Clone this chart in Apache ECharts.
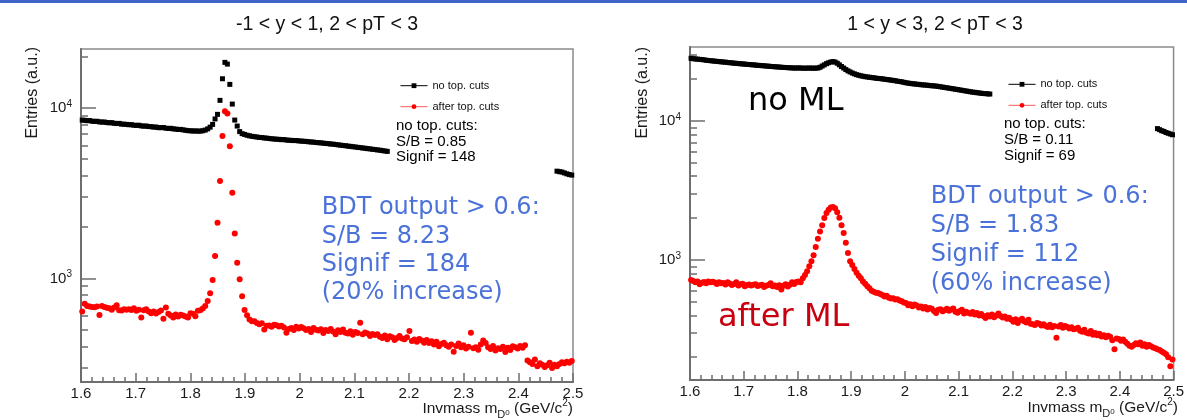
<!DOCTYPE html>
<html>
<head>
<meta charset="utf-8">
<script src="https://cdn.jsdelivr.net/npm/echarts@6/dist/echarts.min.js"></script>
<style>
  html, body { margin: 0; padding: 0; background: #ffffff; }
  #chart { width: 1187px; height: 420px; }
</style>
</head>
<body>
<div id="chart"></div>
<script>
// D0 invariant-mass spectra in two rapidity windows (2 < pT < 3), before and after topological cuts.

const massRange = [1.6, 2.5];
const massTickStep = 0.1;
const leftBinWidth = 0.0045;   // 200 bins
const rightBinWidth = 0.004;   // 225 bins

const panelTitles = ['-1 < y < 1, 2 < pT < 3', '1 < y < 3, 2 < pT < 3'];
const seriesNames = ['no top. cuts', 'after top. cuts'];
const decadeTicks = [1000, 10000];
const minorLogTicks = [200, 300, 400, 500, 600, 700, 800, 900,
                       2000, 3000, 4000, 5000, 6000, 7000, 8000, 9000, 20000, 30000];
const leftYRange = [247, 22100];
const rightYRange = [137, 34000];

// ---- left panel, -1 < y < 1 ----
// no top. cuts: bins 0..124 and 193..199 (the rest sits behind the legend box)
const leftNoCutLowStart = 0;
const leftNoCutLow = [
  8470, 8440, 8400, 8410, 8340, 8320, 8330, 8260, 8240, 8250,
  8190, 8160, 8180, 8110, 8080, 8100, 8020, 8010, 7990, 7950,
  7960, 7900, 7880, 7900, 7830, 7800, 7820, 7760, 7750, 7700,
  7710, 7650, 7640, 7660, 7590, 7560, 7580, 7520, 7500, 7460,
  7470, 7420, 7380, 7340, 7330, 7300, 7320, 7290, 7300, 7330,
  7400, 7520, 7700, 7990, 8600, 9150, 11050, 14790, 18450, 18030,
  13710, 10510, 8470, 7813, 7250, 7050, 6980, 6900, 6850, 6800,
  6770, 6740, 6700, 6690, 6650, 6640, 6600, 6580, 6560, 6540,
  6530, 6500, 6510, 6470, 6450, 6440, 6420, 6430, 6390, 6380,
  6360, 6350, 6320, 6300, 6290, 6260, 6240, 6230, 6200, 6180,
  6160, 6130, 6120, 6090, 6060, 6040, 6010, 5990, 5960, 5940,
  5910, 5890, 5860, 5840, 5810, 5790, 5760, 5740, 5710, 5690,
  5660, 5640, 5610, 5580, 5550
];
const leftNoCutHighStart = 193;
const leftNoCutHigh = [4250, 4220, 4200, 4150, 4100, 4060, 4030];

const leftAfterCut = [
  640, 710, 690, 685, 680, 678, 685, 610, 688, 680,
  672, 668, 655, 675, 695, 650, 648, 660, 655, 660,
  652, 668, 645, 655, 590, 650, 660, 640, 625, 640,
  622, 635, 648, 580, 675, 620, 605, 590, 615, 598,
  612, 605, 598, 590, 625, 620, 600, 645, 650, 665,
  690, 736, 817, 977, 1351, 2118, 3716, 6820, 9550, 9250,
  5950, 3175, 1835, 1234, 987, 787, 652, 609, 575, 560,
  560, 548, 538, 545, 502, 528, 530, 520, 535, 532,
  522, 528, 515, 480, 505, 512, 498, 520, 508, 518,
  510, 498, 505, 485, 512, 500, 495, 503, 478, 498,
  492, 505, 488, 470, 496, 485, 502, 480, 475, 490,
  468, 485, 478, 550, 470, 482, 476, 460, 472, 465,
  470, 455, 448, 462, 440, 458, 452, 436, 448, 460,
  445, 440, 452, 492, 430, 438, 425, 442, 432, 420,
  435, 418, 428, 410, 425, 400, 412, 420, 405, 398,
  410, 372, 402, 415, 395, 405, 388, 398, 480, 390,
  395, 382, 410, 432, 418, 395, 385, 402, 378, 390,
  385, 398, 370, 392, 380, 400, 395, 388, 402, 392,
  405, 330, 322, 315, 335, 305, 318, 312, 302, 310,
  320, 298, 312, 305, 315, 322, 318, 325, 320, 328
];

// ---- right panel, 1 < y < 3 ----
const rightNoCutLowStart = 0;
const rightNoCutLow = [
  28200, 28000, 27900, 27800, 27700, 27600, 27500, 27300, 27200, 27100,
  27000, 26900, 26800, 26700, 26600, 26500, 26450, 26300, 26200, 26150,
  26000, 25950, 25850, 25750, 25700, 25600, 25500, 25450, 25350, 25300,
  25200, 25100, 25050, 24950, 24900, 24800, 24750, 24650, 24600, 24500,
  24450, 24400, 24300, 24250, 24200, 24150, 24100, 24050, 24000, 24000,
  24050, 24000, 23950, 23950, 23950, 24000, 23950, 23950, 23950, 24000,
  24300, 24800, 25300, 25800, 26200, 26500, 26700, 26500, 26000, 25300,
  24600, 24000, 23400, 22900, 22500, 22100, 21800, 21500, 21300, 21100,
  20950, 20800, 20700, 20600, 20500, 20400, 20300, 20200, 20150, 20050,
  19950, 19850, 19750, 19650, 19550, 19450, 19300, 19200, 19100, 18950,
  18800, 18700, 18600, 18500, 18450, 18350, 18300, 18200, 18150, 18100,
  18050, 17950, 17900, 17850, 17800, 17700, 17600, 17500, 17400, 17300,
  17200, 17100, 17000, 16900, 16800, 16700, 16600, 16500, 16400, 16300,
  16200, 16100, 16050, 15950, 15900, 15800, 15750, 15700, 15650, 15600
];
const rightNoCutHighStart = 217;
const rightNoCutHigh = [8800, 8650, 8500, 8400, 8250, 8150, 8050, 7950];

const rightAfterCut = [
  718, 705, 690, 700, 668, 685, 695, 680, 700, 690,
  698, 688, 672, 690, 680, 684, 665, 690, 678, 660,
  672, 690, 655, 668, 675, 648, 660, 665, 655, 662,
  670, 650, 658, 664, 640, 652, 660, 680, 648, 655,
  640, 658, 612, 652, 670, 645, 662, 690, 672, 695,
  700, 690, 740, 780, 830, 900, 980, 1080, 1240, 1420,
  1600, 1780, 2000, 2180, 2300, 2380, 2400, 2350, 2200, 2010,
  1780, 1560, 1330, 1120, 980, 920, 860, 810, 770, 740,
  700, 675, 648, 625, 600, 590, 582, 578, 570, 560,
  545, 552, 535, 528, 530, 520, 522, 510, 505, 495,
  490, 472, 480, 465, 478, 470, 455, 462, 448, 458,
  440, 452, 445, 430, 415, 438, 442, 428, 435, 445,
  432, 440, 448, 425, 418, 430, 438, 412, 425, 416,
  410, 422, 405, 415, 398, 408, 395, 382, 400, 392,
  405, 388, 398, 412, 396, 385, 392, 378, 384, 372,
  360, 375, 352, 368, 378, 362, 355, 372, 348, 345,
  340, 352, 348, 338, 345, 335, 330, 342, 328, 335,
  276, 332, 340, 325, 335, 330, 322, 328, 318, 320,
  325, 310, 305, 315, 300, 296, 308, 290, 298, 288,
  295, 282, 288, 278, 285, 280, 265, 228, 272, 270,
  262, 268, 258, 250, 242, 238, 245, 252, 248, 255,
  242, 248, 238, 245, 240, 235, 232, 228, 225, 220,
  215, 210, 200, 172, 192
];

// ---- helpers ----
const FONT = '"Liberation Sans", Arial, sans-serif';
const AXIS_GREY = '#6e6e6e';

function binPoints(values, firstBin, width) {
  return values.map((v, k) => [+(massRange[0] + (firstBin + k + 0.5) * width).toFixed(5), v]);
}

const chart = echarts.init(document.getElementById('chart'), null, { renderer: 'canvas' });

const grids = [
  { left: 81, top: 49, width: 492, height: 333 },
  { left: 690, top: 47, width: 490, height: 333 }
];
const yRanges = [leftYRange, rightYRange];

const xAxes = grids.map((g, p) => ({
  type: 'value', gridIndex: p, position: 'bottom',
  min: massRange[0], max: massRange[1], interval: massTickStep,
  axisLine: { lineStyle: { color: AXIS_GREY, width: 2 } },
  axisTick: { inside: true, length: 9, lineStyle: { color: AXIS_GREY, width: 1.5 } },
  minorTick: { show: true, splitNumber: 5, length: 5, lineStyle: { color: AXIS_GREY, width: 1.5 } },
  splitLine: { show: false },
  axisLabel: { margin: 4, fontSize: 15, fontFamily: FONT, color: '#1a1a1a' }
}));

const yAxes = [];
yRanges.forEach((r, p) => {
  const lo = Math.log10(r[0]), hi = Math.log10(r[1]);
  // data scale
  yAxes.push({
    type: 'log', logBase: 10, gridIndex: p, position: 'left', min: r[0], max: r[1],
    show: false, splitLine: { show: false }
  });
  // decade ticks and labels
  yAxes.push({
    type: 'value', gridIndex: p, position: 'left', min: lo, max: hi,
    axisLine: { show: true, lineStyle: { color: AXIS_GREY, width: 2 } },
    axisTick: { inside: true, length: 15, customValues: decadeTicks.map(Math.log10),
                lineStyle: { color: AXIS_GREY, width: 1.5 } },
    axisLabel: {
      customValues: decadeTicks.map(Math.log10), margin: 9,
      formatter: v => '{b|10}{s|' + Math.round(v) + '}',
      rich: {
        b: { fontSize: 15, fontFamily: FONT, color: '#1a1a1a', lineHeight: 18 },
        s: { fontSize: 10, fontFamily: FONT, color: '#1a1a1a', lineHeight: 10, verticalAlign: 'top' }
      }
    },
    splitLine: { show: false }
  });
  // 2..9 ticks inside each decade
  yAxes.push({
    type: 'value', gridIndex: p, position: 'left', min: lo, max: hi,
    axisLine: { show: false },
    axisTick: { inside: true, length: 7, customValues: minorLogTicks.map(Math.log10),
                lineStyle: { color: AXIS_GREY, width: 1.5 } },
    axisLabel: { show: false },
    splitLine: { show: false }
  });
});

function noCutSeries(p, data) {
  return {
    type: 'line', name: seriesNames[0], xAxisIndex: p, yAxisIndex: p * 3, data,
    symbol: 'rect', symbolSize: 5, showSymbol: true, silent: true, z: 2,
    itemStyle: { color: '#000000' },
    lineStyle: { color: '#000000', width: 1, opacity: 0 }
  };
}
function afterCutSeries(p, data) {
  return {
    type: 'line', name: seriesNames[1], xAxisIndex: p, yAxisIndex: p * 3, data,
    symbol: 'circle', symbolSize: 6, showSymbol: true, silent: true, z: 3,
    itemStyle: { color: '#ff0000' },
    lineStyle: { color: '#ff5a5a', width: 1, opacity: 0 }
  };
}

const series = [
  noCutSeries(0, binPoints(leftNoCutLow, leftNoCutLowStart, leftBinWidth)),
  noCutSeries(0, binPoints(leftNoCutHigh, leftNoCutHighStart, leftBinWidth)),
  afterCutSeries(0, binPoints(leftAfterCut, 0, leftBinWidth)),
  noCutSeries(1, binPoints(rightNoCutLow, rightNoCutLowStart, rightBinWidth)),
  noCutSeries(1, binPoints(rightNoCutHigh, rightNoCutHighStart, rightBinWidth)),
  afterCutSeries(1, binPoints(rightAfterCut, 0, rightBinWidth))
];

const legends = [[395, 74.2], [1003, 72.8]].map(pos => ({
  left: pos[0], top: pos[1], orient: 'vertical',
  itemWidth: 27, itemHeight: 6, itemGap: 8,
  selectedMode: false,
  lineStyle: { opacity: 1, width: 1 },
  textStyle: { fontSize: 11, lineHeight: 13, fontFamily: FONT, color: '#111111' },
  data: seriesNames
}));

const axisTitleRich = {
  sub: { fontSize: 11, fontFamily: FONT, fill: '#1a1a1a', verticalAlign: 'bottom', lineHeight: 11 },
  sub0: { fontSize: 8, fontFamily: FONT, fill: '#1a1a1a', verticalAlign: 'bottom', lineHeight: 8, padding: [0, 0, 3, 0] },
  sup: { fontSize: 10, fontFamily: FONT, fill: '#1a1a1a', verticalAlign: 'top', lineHeight: 10 }
};

function text(x, y, str, font, fill, extra) {
  return Object.assign({ type: 'text', x, y, silent: true,
    style: Object.assign({ text: str, font, fill, align: 'left', verticalAlign: 'middle' }, extra && extra.style) },
    extra && extra.el);
}

const graphic = [
  { type: 'rect', shape: { x: 0, y: 0, width: 1187, height: 3 }, style: { fill: '#4064c8' }, silent: true },
  text(327, 25, panelTitles[0], '19.5px ' + FONT, '#111111', { style: { align: 'center' } }),
  text(935, 25, panelTitles[1], '19.5px ' + FONT, '#111111', { style: { align: 'center' } }),
  text(33, 47, 'Entries (a.u.)', '16px ' + FONT, '#1a1a1a', { style: { align: 'right' }, el: { rotation: Math.PI / 2 } }),
  text(643, 47, 'Entries (a.u.)', '16px ' + FONT, '#1a1a1a', { style: { align: 'right' }, el: { rotation: Math.PI / 2 } }),
  text(573, 409, 'Invmass m{sub|D}{sub0|0} (GeV/c{sup|2})', '15.5px ' + FONT, '#1a1a1a',
       { style: { align: 'right', lineHeight: 22, rich: axisTitleRich } }),
  text(1178, 408, 'Invmass m{sub|D}{sub0|0} (GeV/c{sup|2})', '15.5px ' + FONT, '#1a1a1a',
       { style: { align: 'right', lineHeight: 22, rich: axisTitleRich } }),
  text(396, 118, 'no top. cuts:\nS/B = 0.85\nSignif = 148', '15px ' + FONT, '#000000',
       { style: { verticalAlign: 'top', lineHeight: 15.7 } }),
  text(1004, 116, 'no top. cuts:\nS/B = 0.11\nSignif = 69', '15px ' + FONT, '#000000',
       { style: { verticalAlign: 'top', lineHeight: 16 } }),
  text(321.7, 193.8, 'BDT output > 0.6:\nS/B = 8.23\nSignif = 184\n(20% increase)', '24px "DejaVu Sans", sans-serif', '#4a72d8',
       { style: { verticalAlign: 'top', lineHeight: 28.4 } }),
  text(930.7, 182.3, 'BDT output > 0.6:\nS/B = 1.83\nSignif = 112\n(60% increase)', '24px "DejaVu Sans", sans-serif', '#4a72d8',
       { style: { verticalAlign: 'top', lineHeight: 28.9 } }),
  text(748, 101.7, 'no ML', '32px "DejaVu Sans", sans-serif', '#000000'),
  text(718, 318, 'after ML', '32px "DejaVu Sans", sans-serif', '#c8000f')
];

chart.setOption({
  animation: false,
  backgroundColor: '#ffffff',
  textStyle: { fontFamily: FONT },
  grid: grids.map(g => Object.assign({ show: true, borderColor: '#8a8a8a', borderWidth: 1.5 }, g)),
  xAxis: xAxes,
  yAxis: yAxes,
  legend: legends,
  series,
  graphic
});
</script>
</body>
</html>
